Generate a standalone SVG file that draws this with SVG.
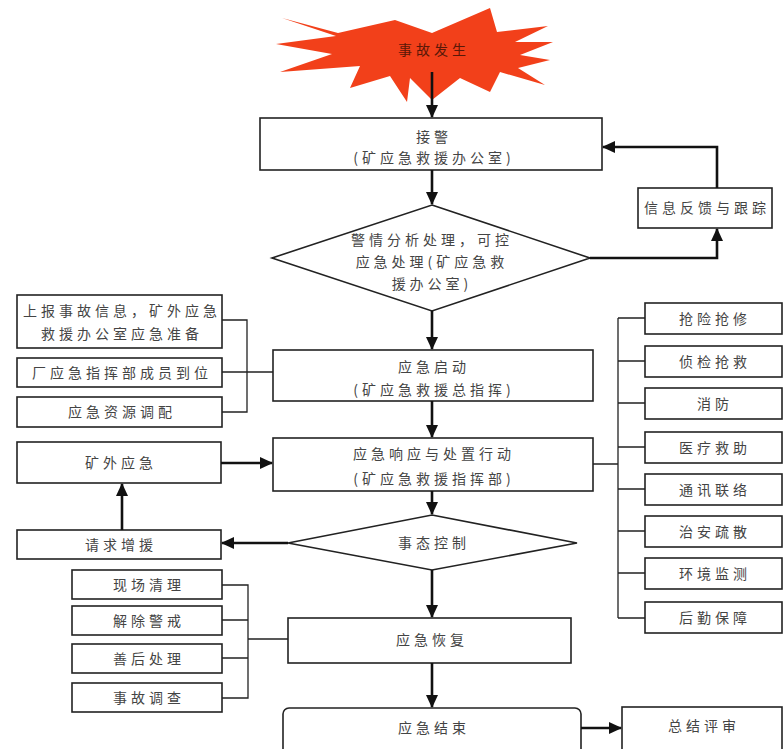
<svg xmlns="http://www.w3.org/2000/svg" width="784" height="749" viewBox="0 0 784 749">
<style>
.box{fill:#fff;stroke:#222;stroke-width:1.6}
.t{font-family:"Noto Sans CJK SC","Noto Sans CJK JP",sans-serif;font-size:14px;fill:#444;text-anchor:middle;letter-spacing:4px}
.arr{fill:none;stroke:#111;stroke-width:2.6;marker-end:url(#ah)}
.ln{fill:none;stroke:#222;stroke-width:1.3}
</style>
<defs>
<marker id="ah" markerUnits="userSpaceOnUse" markerWidth="14" markerHeight="12" refX="12" refY="6" orient="auto">
<path d="M0,0 L13,6 L0,12 Z" fill="#111"/>
</marker>
</defs>
<rect width="784" height="749" fill="#fff"/>

<g id="start">
<polygon points="282,18 338,33 395,20 432,33 490,8 497,32 548,26 515,42 553,42 520,55 550,60 518,68 545,85 500,72 490,92 460,78 432,100 410,78 407,102 390,76 350,88 360,66 280,72 332,54 276,44 336,36" fill="#f2401a"/>
<text class="t" x="434" y="55" style="fill:#5a1808">事故发生</text>
</g>

<g id="jiejing">
<rect class="box" x="260" y="118" width="342" height="52"/>
<text class="t" x="434" y="142">接警</text>
<text class="t" x="434" y="163">(矿应急救援办公室)</text>
</g>

<g id="fankui">
<rect class="box" x="638" y="188" width="134" height="40"/>
<text class="t" x="707" y="213">信息反馈与跟踪</text>
</g>

<g id="fenxi">
<polygon class="box" points="432,205 590,258 432,311 272,258"/>
<text class="t" x="432" y="245">警情分析处理，可控</text>
<text class="t" x="432" y="267">应急处理(矿应急救</text>
<text class="t" x="432" y="289">援办公室)</text>
</g>

<g id="shangbao">
<rect class="box" x="17" y="295" width="205" height="53"/>
<text class="t" x="122" y="316">上报事故信息，矿外应急</text>
<text class="t" x="122" y="339">救援办公室应急准备</text>
</g>
<g id="daowei">
<rect class="box" x="17" y="358" width="205" height="29"/>
<text class="t" x="122" y="378">厂应急指挥部成员到位</text>
</g>
<g id="ziyuan">
<rect class="box" x="17" y="397" width="205" height="30"/>
<text class="t" x="122" y="417">应急资源调配</text>
</g>

<g id="qidong">
<rect class="box" x="273" y="350" width="320" height="51"/>
<text class="t" x="434" y="372">应急启动</text>
<text class="t" x="434" y="395">(矿应急救援总指挥)</text>
</g>

<g id="xiangying">
<rect class="box" x="273" y="438" width="320" height="53"/>
<text class="t" x="434" y="459">应急响应与处置行动</text>
<text class="t" x="434" y="484">(矿应急救援指挥部)</text>
</g>

<g id="kuangwai">
<rect class="box" x="17" y="442" width="204" height="41"/>
<text class="t" x="121" y="468">矿外应急</text>
</g>
<g id="zengyuan">
<rect class="box" x="17" y="530" width="204" height="29"/>
<text class="t" x="121" y="550">请求增援</text>
</g>

<g id="kongzhi">
<polygon class="box" points="432,515 577,543 432,570 288,543"/>
<text class="t" x="434" y="548">事态控制</text>
</g>

<g id="r1"><rect class="box" x="645" y="303" width="137" height="31"/><text class="t" x="715" y="324">抢险抢修</text></g>
<g id="r2"><rect class="box" x="645" y="346" width="137" height="31"/><text class="t" x="715" y="367">侦检抢救</text></g>
<g id="r3"><rect class="box" x="645" y="388" width="137" height="31"/><text class="t" x="715" y="409">消防</text></g>
<g id="r4"><rect class="box" x="645" y="432" width="137" height="31"/><text class="t" x="715" y="453">医疗救助</text></g>
<g id="r5"><rect class="box" x="645" y="474" width="137" height="31"/><text class="t" x="715" y="495">通讯联络</text></g>
<g id="r6"><rect class="box" x="645" y="516" width="137" height="31"/><text class="t" x="715" y="537">治安疏散</text></g>
<g id="r7"><rect class="box" x="645" y="558" width="137" height="31"/><text class="t" x="715" y="579">环境监测</text></g>
<g id="r8"><rect class="box" x="645" y="602" width="137" height="31"/><text class="t" x="715" y="623">后勤保障</text></g>

<g id="l1"><rect class="box" x="72" y="570" width="150" height="29"/><text class="t" x="149" y="590">现场清理</text></g>
<g id="l2"><rect class="box" x="72" y="606" width="150" height="29"/><text class="t" x="149" y="626">解除警戒</text></g>
<g id="l3"><rect class="box" x="72" y="644" width="150" height="29"/><text class="t" x="149" y="664">善后处理</text></g>
<g id="l4"><rect class="box" x="72" y="683" width="150" height="29"/><text class="t" x="149" y="703">事故调查</text></g>

<g id="huifu">
<rect class="box" x="288" y="618" width="283" height="45"/>
<text class="t" x="432" y="645">应急恢复</text>
</g>

<g id="jieshu">
<rect class="box" x="283" y="708" width="298" height="50" rx="6"/>
<text class="t" x="434" y="733">应急结束</text>
</g>

<g id="pingshen">
<rect class="box" x="622" y="707" width="160" height="50"/>
<text class="t" x="704" y="731">总结评审</text>
</g>

<g id="connectors">
<path class="arr" d="M432,72 V117"/>
<path class="arr" d="M432,170 V204"/>
<path class="arr" d="M590,258 H717 V229"/>
<path class="arr" d="M717,188 V147 H603"/>
<path class="arr" d="M432,311 V349"/>
<path class="arr" d="M432,401 V437"/>
<path class="arr" d="M432,491 V514"/>
<path class="arr" d="M432,570 V617"/>
<path class="arr" d="M432,663 V707"/>
<path class="arr" d="M581,728 H621"/>
<path class="arr" d="M288,543 H222"/>
<path class="arr" d="M122,530 V484"/>
<path class="arr" d="M221,463 H272"/>
<path class="ln" d="M222,320 H247 V412 H222 M222,372 H273"/>
<path class="ln" d="M593,464 H618 M618,318 V618 M618,318 H645 M618,361 H645 M618,403 H645 M618,447 H645 M618,489 H645 M618,531 H645 M618,573 H645 M618,618 H645"/>
<path class="ln" d="M222,585 H248 V698 H222 M222,620 H248 M222,658 H248 M248,639 H288"/>
</g>
</svg>
